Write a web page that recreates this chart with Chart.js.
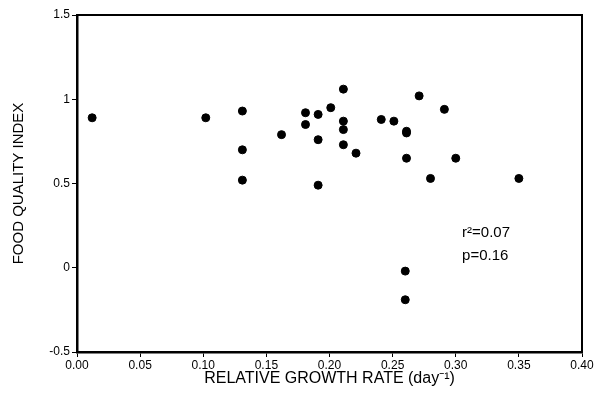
<!DOCTYPE html>
<html>
<head>
<meta charset="utf-8">
<script src="https://cdn.jsdelivr.net/npm/chart.js@4"></script>
<style>
  html, body { margin: 0; padding: 0; background: #fff; }
  #wrap { width: 595px; height: 398px; }
</style>
</head>
<body>
<div id="wrap"><canvas id="chart" width="595" height="398"></canvas></div>
<script>
// Food quality index vs relative growth rate

const growthRate = [0.012, 0.102, 0.131, 0.131, 0.131, 0.162, 0.181, 0.181, 0.191, 0.191, 0.191,
  0.201, 0.211, 0.211, 0.211, 0.211, 0.221, 0.241, 0.251, 0.261, 0.261, 0.261, 0.271, 0.280,
  0.291, 0.300, 0.350, 0.260, 0.260];
const foodQuality = [0.89, 0.89, 0.93, 0.70, 0.52, 0.79, 0.92, 0.85, 0.91, 0.76, 0.49,
  0.95, 1.06, 0.87, 0.82, 0.73, 0.68, 0.88, 0.87, 0.81, 0.80, 0.65, 1.02, 0.53,
  0.94, 0.65, 0.53, -0.02, -0.19];
const xTicks = [0, 0.05, 0.10, 0.15, 0.20, 0.25, 0.30, 0.35, 0.40];
const yTicks = [-0.5, 0, 0.5, 1, 1.5];
const statsText = ['r\u00B2=0.07', 'p=0.16'];

const points = growthRate.map((x, i) => ({ x, y: foodQuality[i] }));
const FONT = '"Liberation Sans", Arial, sans-serif';

// frame around plot + regression stats
const framePlugin = {
  id: 'frame',
  afterDraw(chart) {
    const { ctx, chartArea: a, scales } = chart;
    ctx.save();
    ctx.strokeStyle = '#000';
    ctx.lineWidth = 2;
    ctx.beginPath();
    ctx.moveTo(a.left, a.top);
    ctx.lineTo(a.right, a.top);
    ctx.lineTo(a.right, a.bottom);
    ctx.stroke();
    ctx.fillStyle = '#000';
    ctx.font = '15px ' + FONT;
    ctx.textBaseline = 'middle';
    const tx = scales.x.getPixelForValue(0.305);
    ctx.fillText(statsText[0], tx, scales.y.getPixelForValue(0.205));
    ctx.fillText(statsText[1], tx, scales.y.getPixelForValue(0.07));
    ctx.restore();
  }
};

new Chart(document.getElementById('chart'), {
  type: 'scatter',
  data: {
    datasets: [{
      data: points,
      backgroundColor: '#000',
      borderColor: '#000',
      pointRadius: 4,
      pointHoverRadius: 4
    }]
  },
  options: {
    responsive: false,
    animation: false,
    layout: { padding: { top: 15, right: 13, left: 0, bottom: 0 } },
    plugins: { legend: { display: false }, tooltip: { enabled: false } },
    scales: {
      x: {
        type: 'linear',
        min: 0, max: 0.4,
        afterBuildTicks: s => { s.ticks = xTicks.map(v => ({ value: v })); },
        afterFit: s => { s.height = 46; },
        grid: { display: true, drawOnChartArea: false, drawTicks: true, tickLength: 5, color: '#000', lineWidth: 1 },
        border: { display: true, color: '#000', width: 2.5 },
        ticks: {
          color: '#000', padding: 1,
          font: { family: FONT, size: 12 },
          callback: v => v.toFixed(2)
        },
        title: {
          display: true, text: 'RELATIVE GROWTH RATE (day\u207B\u00B9)',
          color: '#000', font: { family: FONT, size: 16 },
          padding: { top: 0, bottom: 10 }
        }
      },
      y: {
        type: 'linear',
        min: -0.5, max: 1.5,
        afterBuildTicks: s => { s.ticks = yTicks.map(v => ({ value: v })); },
        afterFit: s => { s.width = 77; },
        grid: { display: true, drawOnChartArea: false, drawTicks: true, tickLength: 5, color: '#000', lineWidth: 1 },
        border: { display: true, color: '#000', width: 2.5 },
        ticks: {
          color: '#000', padding: 2,
          font: { family: FONT, size: 12 },
          callback: v => String(v)
        },
        title: {
          display: true, text: 'FOOD QUALITY INDEX',
          color: '#000', font: { family: FONT, size: 15 },
          padding: { top: 10, bottom: 0 }
        }
      }
    }
  },
  plugins: [framePlugin]
});
</script>
</body>
</html>
